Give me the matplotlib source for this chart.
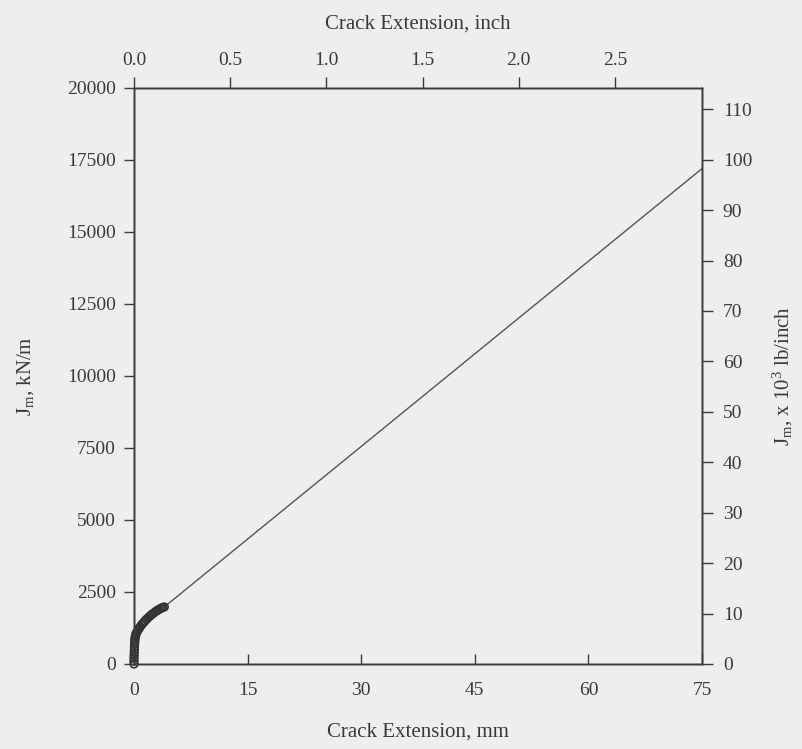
import matplotlib
matplotlib.use("Agg")
import matplotlib.pyplot as plt

# ---- data ----
crack_mm = [0.0, 0.0, 0.0, 0.02, 0.03, 0.05, 0.06, 0.08, 0.1, 0.12, 0.15, 0.2, 0.25, 0.3,
            0.4, 0.5, 0.6, 0.7, 0.8, 1.0, 1.2, 1.4, 1.6, 1.8, 2.0, 2.2, 2.4, 2.6,
            2.8, 3.0, 3.2, 3.4, 3.6, 3.8, 4.0]
j_knm = [0, 100, 200, 300, 400, 500, 600, 700, 780, 850, 920, 980, 1030, 1070,
         1120, 1170, 1210, 1250, 1290, 1360, 1420, 1480, 1540, 1590, 1640, 1690, 1730, 1770,
         1810, 1850, 1880, 1910, 1940, 1960, 1980]
fit_mm = [4.0, 75.0]
fit_knm = [1980, 17200]

x_mm_ticks = [0, 15, 30, 45, 60, 75]
y_kn_ticks = [0, 2500, 5000, 7500, 10000, 12500, 15000, 17500, 20000]
x_in_ticks = [0.0, 0.5, 1.0, 1.5, 2.0, 2.5]
y_lb_ticks = list(range(0, 111, 10))
KN_PER_KLB = 175.127  # kN/m per 10^3 lb/inch
MM_PER_IN = 25.4

plt.rcParams['font.family'] = ['Liberation Serif', 'DejaVu Serif']
plt.rcParams['mathtext.default'] = 'regular'

txt = '#3a3a3a'
ink = '#3c3c3c'
bg = '#eeeeee'
TFS = 14
LFS = 15

W, H = 802, 749
fig = plt.figure(figsize=(W / 100, H / 100), dpi=100, facecolor=bg)
L, R, T, B = 134, 702, 88, 664
ax = fig.add_axes([L / W, 1 - B / H, (R - L) / W, (B - T) / H])
ax.set_facecolor(bg)
ax.set_xlim(0, 75)
ax.set_ylim(0, 20000)

ax.plot(fit_mm, fit_knm, color='#555555', lw=1.0, zorder=2)
ax.scatter(crack_mm, j_knm, s=30, facecolors='none', edgecolors='#333333',
           linewidths=1.2, clip_on=False, zorder=3)

for s in ax.spines.values():
    s.set_color(ink)
    s.set_linewidth(1.0)

ax.set_xticks(x_mm_ticks)
ax.set_xticklabels([str(v) for v in x_mm_ticks])
ax.set_yticks(y_kn_ticks)
ax.set_yticklabels([str(v) for v in y_kn_ticks])
ax.tick_params(axis='x', direction='in', length=7, width=1, color=ink,
               labelsize=TFS, labelcolor=txt, pad=13)
ax.tick_params(axis='y', direction='out', length=7, width=1, color=ink,
               labelsize=TFS, labelcolor=txt, pad=6)
ax.set_xlabel('Crack Extension, mm', fontsize=LFS, color=txt)
ax.set_ylabel('J$_m$, kN/m', fontsize=LFS, color=txt)
ax.xaxis.set_label_coords(0.5, (B - 732) / (B - T))
ax.xaxis.label.set_va('center')
ax.yaxis.set_label_coords((26 - L) / (R - L), 0.5)
ax.yaxis.label.set_va('center')

axt = ax.twiny()
axt.set_xlim(0, 75 / MM_PER_IN)
axt.set_xticks(x_in_ticks)
axt.set_xticklabels([f'{v:.1f}' for v in x_in_ticks])
axt.tick_params(axis='x', direction='out', length=8, width=1, color=ink,
                labelsize=TFS, labelcolor=txt, pad=6)
axt.set_xlabel('Crack Extension, inch', fontsize=LFS, color=txt)
axt.xaxis.set_label_coords(0.5, (B - 24) / (B - T))
axt.xaxis.label.set_va('center')

axr = ax.twinx()
axr.set_ylim(0, 20000 / KN_PER_KLB)
axr.set_yticks(y_lb_ticks)
axr.set_yticklabels([str(v) for v in y_lb_ticks])
axr.tick_params(axis='y', direction='out', length=8, width=1, color=ink,
                labelsize=TFS, labelcolor=txt, pad=7)
axr.set_ylabel('J$_m$, x 10$^3$ lb/inch', fontsize=LFS, color=txt)
axr.yaxis.set_label_coords((783 - L) / (R - L), 0.5)
axr.yaxis.label.set_va('center')

for a in (axt, axr):
    for s in a.spines.values():
        s.set_color(ink)
        s.set_linewidth(1.0)

fig.savefig('out.png', dpi=100, facecolor=bg)
